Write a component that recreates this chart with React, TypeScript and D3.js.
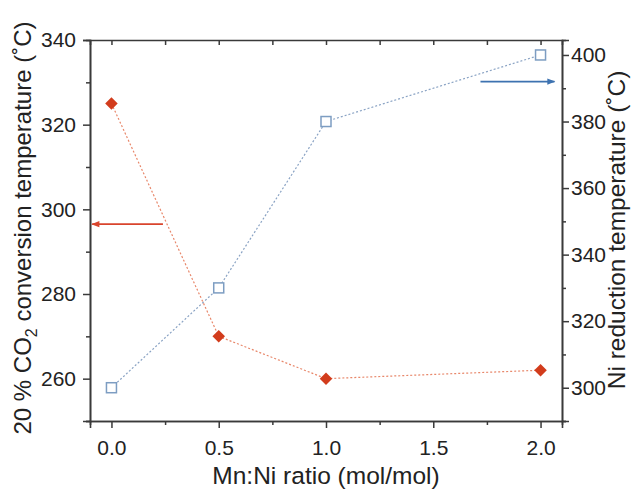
import React, { useEffect, useRef } from "react";
import * as d3 from "d3";

// Mn:Ni ratio
const ratios = [0, 0.5, 1.0, 2.0];
// 20 % CO2 conversion temperature (left axis)
const convTemp = [325, 270, 260, 262];
// Ni reduction temperature (right axis)
const redTemp = [300, 330, 380, 400];

const xTicks = [0, 0.5, 1.0, 1.5, 2.0];
const leftTicks = [260, 280, 300, 320, 340];
const rightTicks = [300, 320, 340, 360, 380, 400];

export default function App() {
  const svgRef = useRef<SVGSVGElement>(null);

  useEffect(() => {
    const width = 636, height = 491;
    const margin = { top: 40, right: 74, bottom: 70, left: 90 };
    const svg = d3.select(svgRef.current);
    svg.selectAll("*").remove();

    const x = d3.scaleLinear().domain([-0.1, 2.1]).range([margin.left, width - margin.right]);
    const yL = d3.scaleLinear().domain([250, 340]).range([height - margin.bottom, margin.top]);
    const yR = d3.scaleLinear().domain([290, 404.5]).range([height - margin.bottom, margin.top]);

    const axisColor = "#3a3a3a";
    const font = "Liberation Sans, Arial, sans-serif";
    const red = "#d23c1c";
    const redLine = "#e8876a";
    const blue = "#7d9dc2";
    const blueLine = "#8aa3c4";

    const styleAxis = (g: any, size = 21) => {
      g.select(".domain").attr("stroke", axisColor).attr("stroke-width", 1.6);
      g.selectAll(".tick line").attr("stroke", axisColor).attr("stroke-width", 1.5);
      g.selectAll("text").attr("font-family", font).attr("font-size", size).attr("fill", "#222");
    };

    // minor ticks
    const xMinor = d3.range(0.25, 2.0, 0.5);
    const leftMinor = d3.range(250, 340, 20);
    const rightMinor = d3.range(290, 400, 20);

    svg.append("g")
      .attr("transform", `translate(0,${height - margin.bottom})`)
      .call(d3.axisBottom(x).tickValues(xMinor).tickSize(4).tickFormat(() => ""))
      .call(styleAxis);
    svg.append("g")
      .attr("transform", `translate(0,${height - margin.bottom})`)
      .call(d3.axisBottom(x).tickValues(xTicks).tickSize(7).tickPadding(12).tickFormat(d3.format(".1f")))
      .call(styleAxis);

    svg.append("g")
      .attr("transform", `translate(0,${margin.top})`)
      .call(d3.axisBottom(x).tickValues([...xTicks, ...xMinor]).tickSize(5).tickFormat(() => ""))
      .call(styleAxis);

    svg.append("g")
      .attr("transform", `translate(${margin.left},0)`)
      .call(d3.axisLeft(yL).tickValues(leftMinor).tickSize(4).tickFormat(() => ""))
      .call(styleAxis);
    svg.append("g")
      .attr("transform", `translate(${margin.left},0)`)
      .call(d3.axisLeft(yL).tickValues(leftTicks).tickSize(7).tickPadding(7))
      .call(styleAxis);

    svg.append("g")
      .attr("transform", `translate(${width - margin.right},0)`)
      .call(d3.axisRight(yR).tickValues(rightMinor).tickSize(4).tickFormat(() => ""))
      .call(styleAxis);
    svg.append("g")
      .attr("transform", `translate(${width - margin.right},0)`)
      .call(d3.axisRight(yR).tickValues(rightTicks).tickSize(7).tickPadding(2))
      .call(styleAxis);

    // lines
    const convPts = ratios.map((r, i) => [x(r), yL(convTemp[i])] as [number, number]);
    const redPts = ratios.map((r, i) => [x(r), yR(redTemp[i])] as [number, number]);
    const line = d3.line();

    svg.append("path").attr("d", line(redPts))
      .attr("fill", "none").attr("stroke", blueLine).attr("stroke-width", 1.2)
      .attr("stroke-dasharray", "2,2");
    svg.append("path").attr("d", line(convPts))
      .attr("fill", "none").attr("stroke", redLine).attr("stroke-width", 1.2)
      .attr("stroke-dasharray", "2,2");

    svg.selectAll(".sq").data(redPts).enter().append("rect")
      .attr("x", d => d[0] - 5).attr("y", d => d[1] - 5)
      .attr("width", 10).attr("height", 10)
      .attr("fill", "white").attr("stroke", blue).attr("stroke-width", 1.5);

    const diamond = d3.symbol().type(d3.symbolDiamond2).size(100);
    svg.selectAll(".dm").data(convPts).enter().append("path")
      .attr("d", diamond)
      .attr("transform", d => `translate(${d[0]},${d[1]})`)
      .attr("fill", red);

    // arrows
    const defs = svg.append("defs");
    const mk = (id: string, c: string) =>
      defs.append("marker").attr("id", id).attr("viewBox", "0 0 10 10")
        .attr("refX", 9).attr("refY", 5)
        .attr("orient", "auto").attr("markerUnits", "userSpaceOnUse")
        .attr("markerWidth", 12).attr("markerHeight", 8)
        .append("path").attr("d", "M0,1 L10,5 L0,9 Z").attr("fill", c);
    mk("ar", "#d9442c");
    mk("ab", "#3d72b0");

    svg.append("line")
      .attr("x1", x(0.24)).attr("x2", x(-0.09))
      .attr("y1", yL(296.5)).attr("y2", yL(296.5))
      .attr("stroke", "#d9442c").attr("stroke-width", 1.8)
      .attr("marker-end", "url(#ar)");
    svg.append("line")
      .attr("x1", x(1.72)).attr("x2", x(2.065))
      .attr("y1", yR(392)).attr("y2", yR(392))
      .attr("stroke", "#3d72b0").attr("stroke-width", 1.8)
      .attr("marker-end", "url(#ab)");

    // titles
    svg.append("text")
      .attr("x", (margin.left + width - margin.right) / 2).attr("y", 484)
      .attr("text-anchor", "middle").attr("font-family", font).attr("font-size", 24.5).attr("fill", "#222")
      .text("Mn:Ni ratio (mol/mol)");

    const lt = svg.append("text")
      .attr("transform", `translate(31,228) rotate(-90)`)
      .attr("text-anchor", "middle").attr("font-family", font).attr("font-size", 24).attr("fill", "#222");
    lt.append("tspan").text("20 % CO");
    lt.append("tspan").attr("font-size", 16).attr("dy", 6).text("2");
    lt.append("tspan").attr("dy", -6).text(" conversion temperature (˚C)");

    svg.append("text")
      .attr("transform", `translate(625,230) rotate(-90)`)
      .attr("text-anchor", "middle").attr("font-family", font).attr("font-size", 24.5).attr("fill", "#222")
      .text("Ni reduction temperature (˚C)");
  }, []);

  return (
    <svg ref={svgRef} width={636} height={491}
      style={{ position: "absolute", left: 0, top: 0, background: "white" }} />
  );
}
